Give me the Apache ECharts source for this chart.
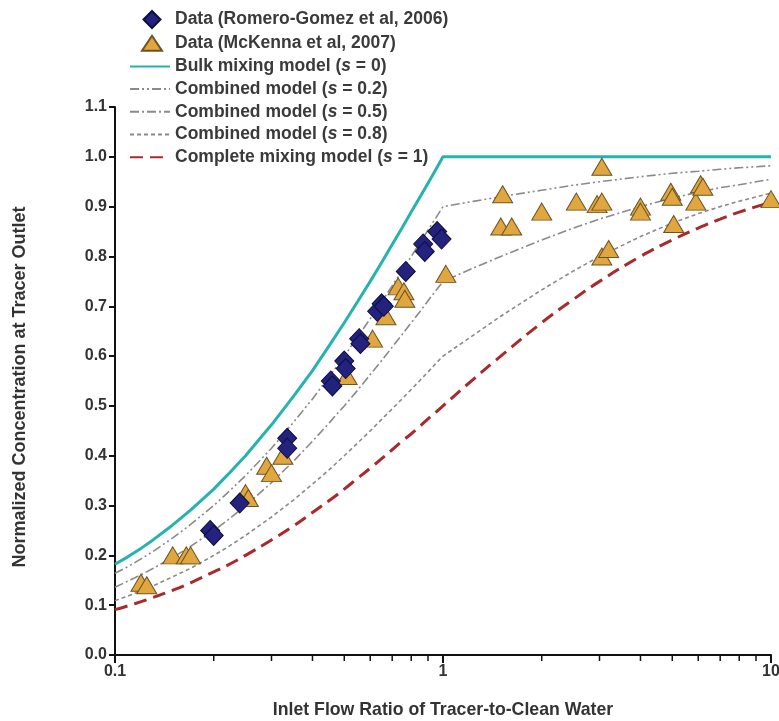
<!DOCTYPE html>
<html>
<head>
<meta charset="utf-8">
<script src="https://cdn.jsdelivr.net/npm/echarts@6/dist/echarts.min.js"></script>
<style>html,body{margin:0;padding:0;background:#fff}#c{width:779px;height:721px}</style>
</head>
<body>
<div id="c"></div>
<script>
// Model curves (x = inlet flow ratio)
var xModel = [0.1, 0.11, 0.12, 0.13, 0.15, 0.17, 0.2, 0.22, 0.25, 0.3, 0.35, 0.4, 0.45, 0.5, 0.55, 0.6, 0.65, 0.7, 0.75, 0.8, 0.85, 0.9, 0.95, 1, 1.25, 1.5, 2, 2.5, 3, 4, 5, 6, 7, 8, 10];
var bulkModel = [0.182, 0.198, 0.214, 0.230, 0.261, 0.291, 0.333, 0.361, 0.400, 0.462, 0.519, 0.571, 0.621, 0.667, 0.710, 0.750, 0.788, 0.824, 0.857, 0.889, 0.919, 0.947, 0.974, 1.000, 1.000, 1.000, 1.000, 1.000, 1.000, 1.000, 1.000, 1.000, 1.000, 1.000, 1.000];
var combined02 = [0.164, 0.178, 0.193, 0.207, 0.235, 0.262, 0.300, 0.325, 0.360, 0.415, 0.467, 0.514, 0.559, 0.600, 0.639, 0.675, 0.709, 0.741, 0.771, 0.800, 0.827, 0.853, 0.877, 0.900, 0.911, 0.920, 0.933, 0.943, 0.950, 0.960, 0.967, 0.971, 0.975, 0.978, 0.982];
var combined05 = [0.136, 0.149, 0.161, 0.173, 0.196, 0.218, 0.250, 0.270, 0.300, 0.346, 0.389, 0.429, 0.466, 0.500, 0.532, 0.563, 0.591, 0.618, 0.643, 0.667, 0.689, 0.711, 0.731, 0.750, 0.778, 0.800, 0.833, 0.857, 0.875, 0.900, 0.917, 0.929, 0.938, 0.944, 0.955];
var combined08 = [0.109, 0.119, 0.129, 0.138, 0.157, 0.174, 0.200, 0.216, 0.240, 0.277, 0.311, 0.343, 0.372, 0.400, 0.426, 0.450, 0.473, 0.494, 0.514, 0.533, 0.551, 0.568, 0.585, 0.600, 0.644, 0.680, 0.733, 0.771, 0.800, 0.840, 0.867, 0.886, 0.900, 0.911, 0.927];
var completeModel = [0.091, 0.099, 0.107, 0.115, 0.130, 0.145, 0.167, 0.180, 0.200, 0.231, 0.259, 0.286, 0.310, 0.333, 0.355, 0.375, 0.394, 0.412, 0.429, 0.444, 0.459, 0.474, 0.487, 0.500, 0.556, 0.600, 0.667, 0.714, 0.750, 0.800, 0.833, 0.857, 0.875, 0.889, 0.909];

// Data (Romero-Gomez et al, 2006)
var romeroX = [0.195, 0.2, 0.24, 0.335, 0.335, 0.455, 0.46, 0.50, 0.505, 0.555, 0.56, 0.63, 0.65, 0.66, 0.77, 0.87, 0.88, 0.96, 0.99];
var romeroY = [0.25, 0.24, 0.305, 0.435, 0.415, 0.55, 0.54, 0.59, 0.575, 0.635, 0.625, 0.69, 0.705, 0.70, 0.77, 0.825, 0.81, 0.85, 0.835];

// Data (McKenna et al, 2007)
var mckX = [0.12, 0.125, 0.15, 0.165, 0.17, 0.25, 0.255, 0.29, 0.30, 0.325, 0.51, 0.61, 0.67, 0.73, 0.76, 0.765, 1.02, 1.52, 1.5, 1.62, 2.0, 2.55, 2.95, 3.05, 3.05, 3.05, 3.2, 4.0, 4.0, 4.95, 5.0, 5.05, 5.9, 6.1, 6.2, 10];
var mckY = [0.145, 0.14, 0.20, 0.20, 0.20, 0.325, 0.315, 0.38, 0.365, 0.40, 0.56, 0.635, 0.68, 0.74, 0.73, 0.715, 0.765, 0.925, 0.86, 0.86, 0.89, 0.91, 0.905, 0.91, 0.98, 0.80, 0.815, 0.90, 0.89, 0.93, 0.92, 0.865, 0.91, 0.945, 0.94, 0.915];

// Axis ticks
var xMinorTicks = [0.2, 0.3, 0.4, 0.5, 0.6, 0.7, 0.8, 0.9, 2, 3, 4, 5, 6, 7, 8, 9];

var legendNames = [
  'Data (Romero-Gomez et al, 2006)',
  'Data (McKenna et al, 2007)',
  'Bulk mixing model ({i|s} = 0)',
  'Combined model ({i|s} = 0.2)',
  'Combined model ({i|s} = 0.5)',
  'Combined model ({i|s} = 0.8)',
  'Complete mixing model ({i|s} = 1)'
];

function zip(xs, ys) { return xs.map(function (x, i) { return [x, ys[i]]; }); }

var chart = echarts.init(document.getElementById('c'), null, { renderer: 'canvas' });
var FONT = 'Liberation Sans';
var gray = '#8a8a8a';

function lineSeries(name, ys, color, width, dash, smooth) {
  return {
    name: name, type: 'line', data: zip(xModel, ys), symbol: 'none', smooth: smooth || false,
    lineStyle: { color: color, width: width, type: dash, cap: 'butt' },
    itemStyle: { color: color }, z: 2, animation: false
  };
}

// legend icons: symbol placed inside a 40x17 box so that it is not stretched
var diamondIcon = 'path://M0,0M40,17M22,0L30.5,8.5L22,17L13.5,8.5Z';
var triangleIcon = 'path://M0,0M40,17M22,1L32,16L12,16Z';

var legendData = legendNames.map(function (n, i) {
  if (i === 0) return { name: n, icon: diamondIcon };
  if (i === 1) return { name: n, icon: triangleIcon };
  return { name: n, itemStyle: { opacity: 0 } };
});

var option = {
  animation: false,
  backgroundColor: '#fff',
  grid: { left: 115, right: 8, top: 107, bottom: 66, containLabel: false, outerBoundsMode: 'none' },
  legend: {
    orient: 'vertical', left: 124, top: 5,
    itemWidth: 40, itemHeight: 17, itemGap: 4.7,
    data: legendData,
    selectedMode: false,
    textStyle: {
      fontFamily: FONT, fontSize: 17.5, fontWeight: 'bold', color: '#3a3a3a',
      rich: { i: { fontFamily: FONT, fontSize: 17.5, fontWeight: 'bold', fontStyle: 'italic', color: '#3a3a3a' } }
    }
  },
  xAxis: {
    type: 'log', logBase: 10, min: 0.1, max: 10,
    name: 'Inlet Flow Ratio of Tracer-to-Clean Water',
    nameLocation: 'middle', nameGap: 46,
    nameTextStyle: { fontFamily: FONT, fontSize: 17.7, fontWeight: 'bold', color: '#333' },
    axisLine: { show: true, onZero: false, lineStyle: { color: '#111', width: 2 } },
    axisTick: { show: true, length: 8, lineStyle: { color: '#111', width: 2 } },
    minorTick: { show: false },
    splitLine: { show: false },
    axisLabel: {
      fontFamily: FONT, fontSize: 16, fontWeight: 'bold', color: '#333', margin: 9,
      formatter: function (v) { return v >= 1 ? String(Math.round(v)) : String(Math.round(v * 10) / 10); }
    }
  },
  yAxis: {
    type: 'value', min: 0, max: 1.1, interval: 0.1,
    name: 'Normalized Concentration at Tracer Outlet',
    nameLocation: 'middle', nameGap: 86,
    nameTextStyle: { fontFamily: FONT, fontSize: 18, fontWeight: 'bold', color: '#333', padding: [0, 12, 0, 0] },
    axisLine: { show: true, lineStyle: { color: '#111', width: 2 } },
    axisTick: { show: true, length: 6, lineStyle: { color: '#111', width: 2 } },
    splitLine: { show: false },
    axisLabel: {
      fontFamily: FONT, fontSize: 16, fontWeight: 'bold', color: '#333', margin: 8,
      formatter: function (v) { return v.toFixed(1); }
    }
  },
  series: [
    lineSeries(legendNames[2], bulkModel, '#27b3ad', 3, 'solid'),
    lineSeries(legendNames[3], combined02, gray, 1.6, [9, 3, 2, 3, 2, 3]),
    lineSeries(legendNames[4], combined05, gray, 1.6, [9, 3, 2, 3]),
    lineSeries(legendNames[5], combined08, gray, 1.6, [4, 3]),
    lineSeries(legendNames[6], completeModel, '#a82a2c', 3, [13, 7], true),
    {
      name: legendNames[1], type: 'scatter', data: zip(mckX, mckY),
      symbol: 'triangle', symbolSize: [20, 17],
      itemStyle: { color: '#e0a640', borderColor: '#6e5322', borderWidth: 1, opacity: 1 },
      z: 4
    },
    {
      name: legendNames[0], type: 'scatter', data: zip(romeroX, romeroY),
      symbol: 'diamond', symbolSize: [19, 20],
      itemStyle: { color: '#23237e', borderColor: '#0d0d40', borderWidth: 1, opacity: 1 },
      z: 5
    },
    {
      type: 'custom', name: 'minorTicks', data: xMinorTicks.map(function (v) { return [v, 0]; }),
      clip: false, silent: true, z: 6,
      renderItem: function (params, api) {
        var p = api.coord([api.value(0), 0]);
        return { type: 'line', shape: { x1: p[0], y1: p[1], x2: p[0], y2: p[1] + 6 },
          style: { stroke: '#111', lineWidth: 1.5 } };
      }
    }
  ]
};
chart.setOption(option);
</script>
</body>
</html>
